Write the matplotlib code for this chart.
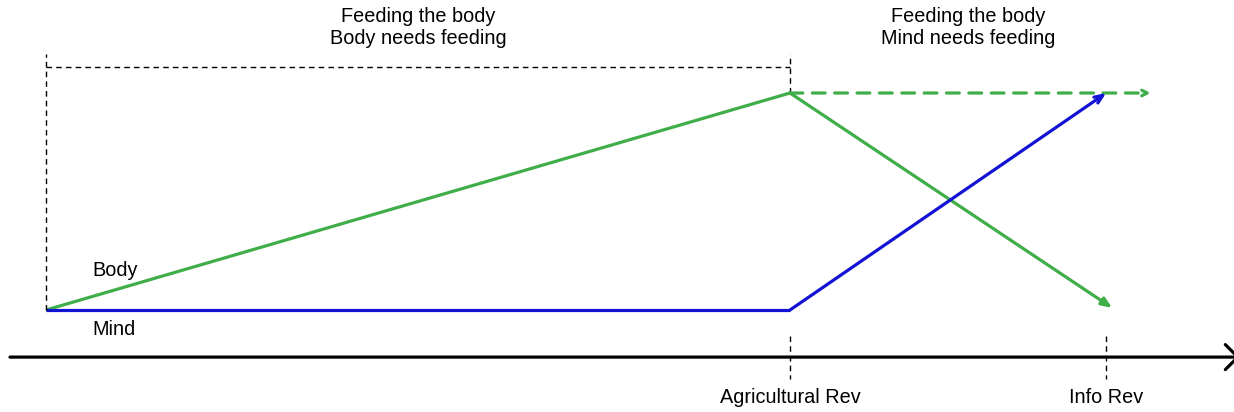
import matplotlib.pyplot as plt

plt.rcParams['font.family'] = ['Liberation Sans', 'DejaVu Sans']

# timeline positions (start, agricultural revolution, information revolution)
t_start, t_agri, t_info = 0.0, 10.0, 14.25
# relative "need" levels
body_vals = [0.0, 1.0, 0.01]
mind_vals = [0.0, 0.0, 1.0]
body_future_end = 14.85
period_titles = ['Feeding the body\nBody needs feeding', 'Feeding the body\nMind needs feeding']
era_labels = ['Agricultural Rev', 'Info Rev']

green = '#3fae49'
blue = '#1212d4'
fs = 14.3

fig = plt.figure(figsize=(12.34, 4.12), dpi=100)
ax = fig.add_axes([0, 0, 1, 1])
ax.set_xlim(-0.618, 15.968)
ax.set_ylim(-0.47, 1.4286)
ax.axis('off')

# body line
ax.plot([t_start, t_agri], body_vals[:2], color=green, lw=2.3, solid_capstyle='butt')
ax.annotate('', xy=(t_info + 0.08, body_vals[2]), xytext=(t_agri, body_vals[1]),
            arrowprops=dict(arrowstyle='-|>,head_length=0.6,head_width=0.25', color=green, lw=2.3,
                            shrinkA=0, shrinkB=0))
ax.annotate('', xy=(body_future_end, body_vals[1]), xytext=(t_agri, body_vals[1]),
            arrowprops=dict(arrowstyle='->,head_length=0.4,head_width=0.2', color=green, lw=2.3,
                            linestyle=(0, (4, 3)), shrinkA=0, shrinkB=0))

# mind line
ax.plot([t_start, t_agri], mind_vals[:2], color=blue, lw=2.3, solid_capstyle='butt')
ax.annotate('', xy=(t_info, mind_vals[2]), xytext=(t_agri, mind_vals[1]),
            arrowprops=dict(arrowstyle='->,head_length=0.6,head_width=0.25', color=blue, lw=2.3,
                            shrinkA=0, shrinkB=0))

# bracket
top = 1.12
ax.plot([t_start, t_start], [0, 1.18], color='black', lw=1, ls=(0, (4, 3)))
ax.plot([t_start, t_agri], [top, top], color='black', lw=1, ls=(0, (4, 3)))
ax.plot([t_agri, t_agri], [1.0, 1.18], color='black', lw=1, ls=(0, (4, 3)))

# time axis
axis_y = -0.217
ax.annotate('', xy=(16.05, axis_y), xytext=(-0.484, axis_y), annotation_clip=False,
            arrowprops=dict(arrowstyle='->,head_length=0.9,head_width=0.9', color='black', lw=2.3,
                            shrinkA=0, shrinkB=0))
for t in [t_agri, t_info]:
    ax.plot([t, t], [-0.12, -0.32], color='black', lw=1, ls=(0, (4, 3)))

ax.text(t_agri, -0.405, era_labels[0], ha='center', va='center', fontsize=fs)
ax.text(t_info, -0.405, era_labels[1], ha='center', va='center', fontsize=fs)

ax.text((t_start + t_agri) / 2, 1.3, period_titles[0], ha='center', va='center', fontsize=fs,
        linespacing=1.2)
ax.text(12.4, 1.3, period_titles[1], ha='center', va='center', fontsize=fs, linespacing=1.2)

ax.text(0.62, 0.18, 'Body', ha='left', va='center', fontsize=fs)
ax.text(0.62, -0.09, 'Mind', ha='left', va='center', fontsize=fs)

fig.savefig('out.png', dpi=100)
